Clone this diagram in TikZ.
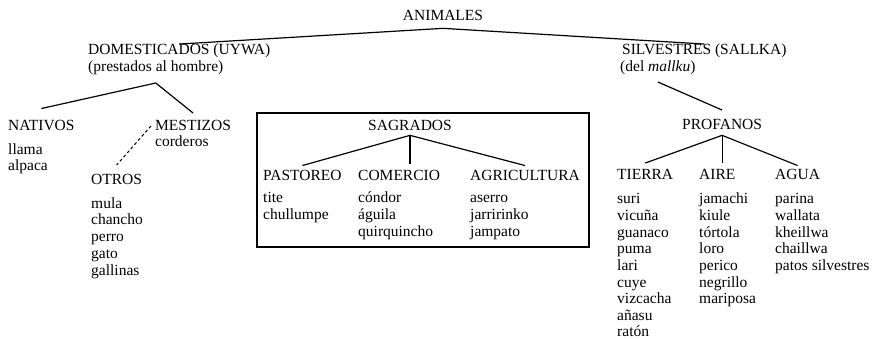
\documentclass[tikz,border=0pt]{standalone}
\usepackage{fontspec}
\setmainfont{Liberation Serif}
\usetikzlibrary{positioning, calc}
\tikzset{
	branch/.style={line width=1.2pt},
	dashbranch/.style={line width=1pt, dash pattern=on 3pt off 2.5pt},
	head/.style={anchor=base west, inner sep=0pt},
	item/.style={anchor=base west, inner sep=0pt},
}

\begin{document}
\begin{tikzpicture}[x=1pt, y=-1pt, font=\fontsize{15.5}{17}\selectfont]
		\useasboundingbox (0,0) rectangle (875,339);

		% Animales
		\node[head, anchor=base] (anim) at (443,21) {ANIMALES};
		\node[head] (dom) at (88,55) {DOMESTICADOS (UYWA)};
		\node[head] (domsub) at (88,72) {(prestados al hombre)};
		\node[head] (silv) at (622,55) {SILVESTRES (SALLKA)};
		\node[head] (silvsub) at (620,72) {(del \textit{mallku})};

		\draw[branch] (dom.north) -- ([yshift=-7pt]anim.south) -- (silv.north);

		% Domesticados
		\node[head] (nat) at (8,131) {NATIVOS};
		\node[item] (nat1) at (8,155) {llama};
		\node[item] (nat2) at (8,171) {alpaca};

		\node[head] (mest) at (155,131) {MESTIZOS};
		\node[item] (mest1) at (155,147) {corderos};

		\node[head] (otros) at (91,185) {OTROS};
		\foreach \w [count=\i] in {mula, chancho, perro, gato, gallinas}
			\node[item] (otros\i) at (91,{208+16.75*(\i-1)}) {\w};

		\draw[branch] ([yshift=12pt]nat.north) -- ([yshift=-7.5pt]domsub.south) -- ([yshift=7.5pt]mest.north);
		\draw[dashbranch] ([xshift=-4pt]mest.west) -- ([yshift=9.5pt]otros.north);

		% Sagrados
		\draw[branch] (257,113) rectangle (589,247);
		\node[head, anchor=base] (sag) at (410,131) {SAGRADOS};
		\node[head] (pas) at (263,181) {PASTOREO};
		\node[head] (com) at (358,181) {COMERCIO};
		\node[head] (agr) at (470,181) {AGRICULTURA};
		\coordinate (comtop) at ([yshift=7pt]com.north);

		\foreach \w [count=\i] in {tite, chullumpe}
			\node[item] (pas\i) at (263,{203+16.75*(\i-1)}) {\w};
		\foreach \w [count=\i] in {cóndor, águila, quirquincho}
			\node[item] (com\i) at (358,{203+16.75*(\i-1)}) {\w};
		\foreach \w [count=\i] in {aserro, jarririnko, jampato}
			\node[item] (agr\i) at (470,{203+16.75*(\i-1)}) {\w};

		\draw[branch] ([yshift=5pt]pas.north) -- ([yshift=-4pt]sag.south) -- ([yshift=5pt]agr.north);
		\draw[branch] ([yshift=-4pt]sag.south) -- (sag.south |- comtop);

		% Profanos
		\node[head] (prof) at (682,130) {PROFANOS};
		\node[head] (tie) at (617,180) {TIERRA};
		\node[head] (air) at (699,180) {AIRE};
		\node[head] (agu) at (775,180) {AGUA};
		\coordinate (airtop) at ([yshift=7pt]air.north);

		\foreach \w [count=\i] in {suri, vicuña, guanaco, puma, lari, cuye, vizcacha, añasu, ratón}
			\node[item] (tie\i) at (617,{204+16.6*(\i-1)}) {\w};
		\foreach \w [count=\i] in {jamachi, kiule, tórtola, loro, perico, negrillo, mariposa}
			\node[item] (air\i) at (699,{204+16.6*(\i-1)}) {\w};
		\foreach \w [count=\i] in {parina, wallata, kheillwa, chaillwa, patos silvestres}
			\node[item] (agu\i) at (775,{204+16.6*(\i-1)}) {\w};

		\draw[branch] ([yshift=-6.5pt]silvsub.south) -- ([yshift=9.5pt]prof.north);
		\draw[branch] ([yshift=6.5pt]tie.north) -- ([yshift=-5pt]prof.south) -- ([yshift=4pt]agu.north);
		\draw[branch] ([yshift=-5pt]prof.south) -- (prof.south |- airtop);
	\end{tikzpicture}
\end{document}
